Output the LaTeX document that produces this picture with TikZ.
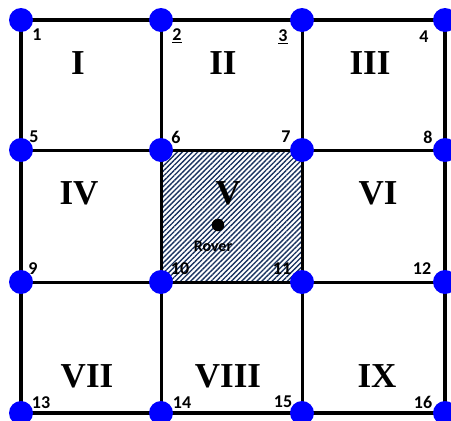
\documentclass[tikz,border=0pt]{standalone}
\usepackage{fontspec}
\setmainfont{Liberation Serif}
\newfontfamily\lblfont{Carlito}
\definecolor{VertexBlue}{RGB}{0,0,255}
\definecolor{HatchNavy}{RGB}{25,50,95}
\usetikzlibrary{patterns.meta,positioning}

\begin{document}
\begin{tikzpicture}[x=1pt,y=-1pt,
    vertex/.style={circle,fill=VertexBlue,inner sep=0pt,minimum size=24pt},
    cellname/.style={font=\fontsize{35}{35}\selectfont\bfseries,inner sep=0pt},
    vnum/.style={font=\lblfont\fontsize{18}{18}\selectfont\bfseries,inner sep=0pt},
    outerline/.style={line width=4.5pt},
    innerline/.style={line width=3pt}]
  \useasboundingbox (0,0) rectangle (451,421);
  % grid points
  \foreach \n/\x/\y in {1/21/20,2/161/20,3/302/20,4/445/20,
      5/21/150,6/161/150,7/302/150,8/445/150,
      9/21/282,10/161/282,11/302/282,12/445/282,
      13/21/413,14/161/413,15/302/413,16/445/413}
    \coordinate (g\n) at (\x,\y);
  % rover cell
  \path[pattern={Lines[angle=45,distance=3.6pt,line width=1.35pt]},
        pattern color=HatchNavy] (g6) rectangle (g11);
  % grid lines
  \draw[innerline] (g2) -- (g14);
  \draw[innerline] (g3) -- (g15);
  \draw[innerline] (g5) -- (g8);
  \draw[innerline] (g9) -- (g12);
  \draw[innerline] (g6) rectangle (g11);
  \draw[outerline] (g1) rectangle (g16);
  \foreach \n in {1,...,16}
    \node[vertex] (v\n) at (g\n) {};
  % vertex numbers
  \foreach \n/\x/\y/\t in {1/37/35/1,2/177/36/{\underline{2}},3/283/37/{\underline{3}},4/424/37/4,
      5/34/137/5,6/176/137/6,7/286/137/7,8/428/137/8,
      9/33/269/9,10/180/269/10,11/282/269/11,12/422/269/12,
      13/41/403/13,14/182/403/14,15/283/402/15,16/423/402/16}
    \node[vnum] (n\n) at (\x,\y) {\t};
  % cell names
  \foreach \c/\x/\y/\t in {c1/78/63/I,c2/223/63/II,c3/370/63/III,
      c4/79/193/IV,c5/228/193/V,c6/378/193/VI,
      c7/87/376/VII,c8/228/376/VIII,c9/377/376/IX}
    \node[cellname] (\c) at (\x,\y) {\t};
  % rover
  \node[circle,fill=black,inner sep=0pt,minimum size=12.5pt] (rover) at (218,225) {};
  \node[vnum,font=\lblfont\fontsize{16}{16}\selectfont\bfseries] (roverlbl) at (213,246) {Rover};
\end{tikzpicture}
\end{document}
